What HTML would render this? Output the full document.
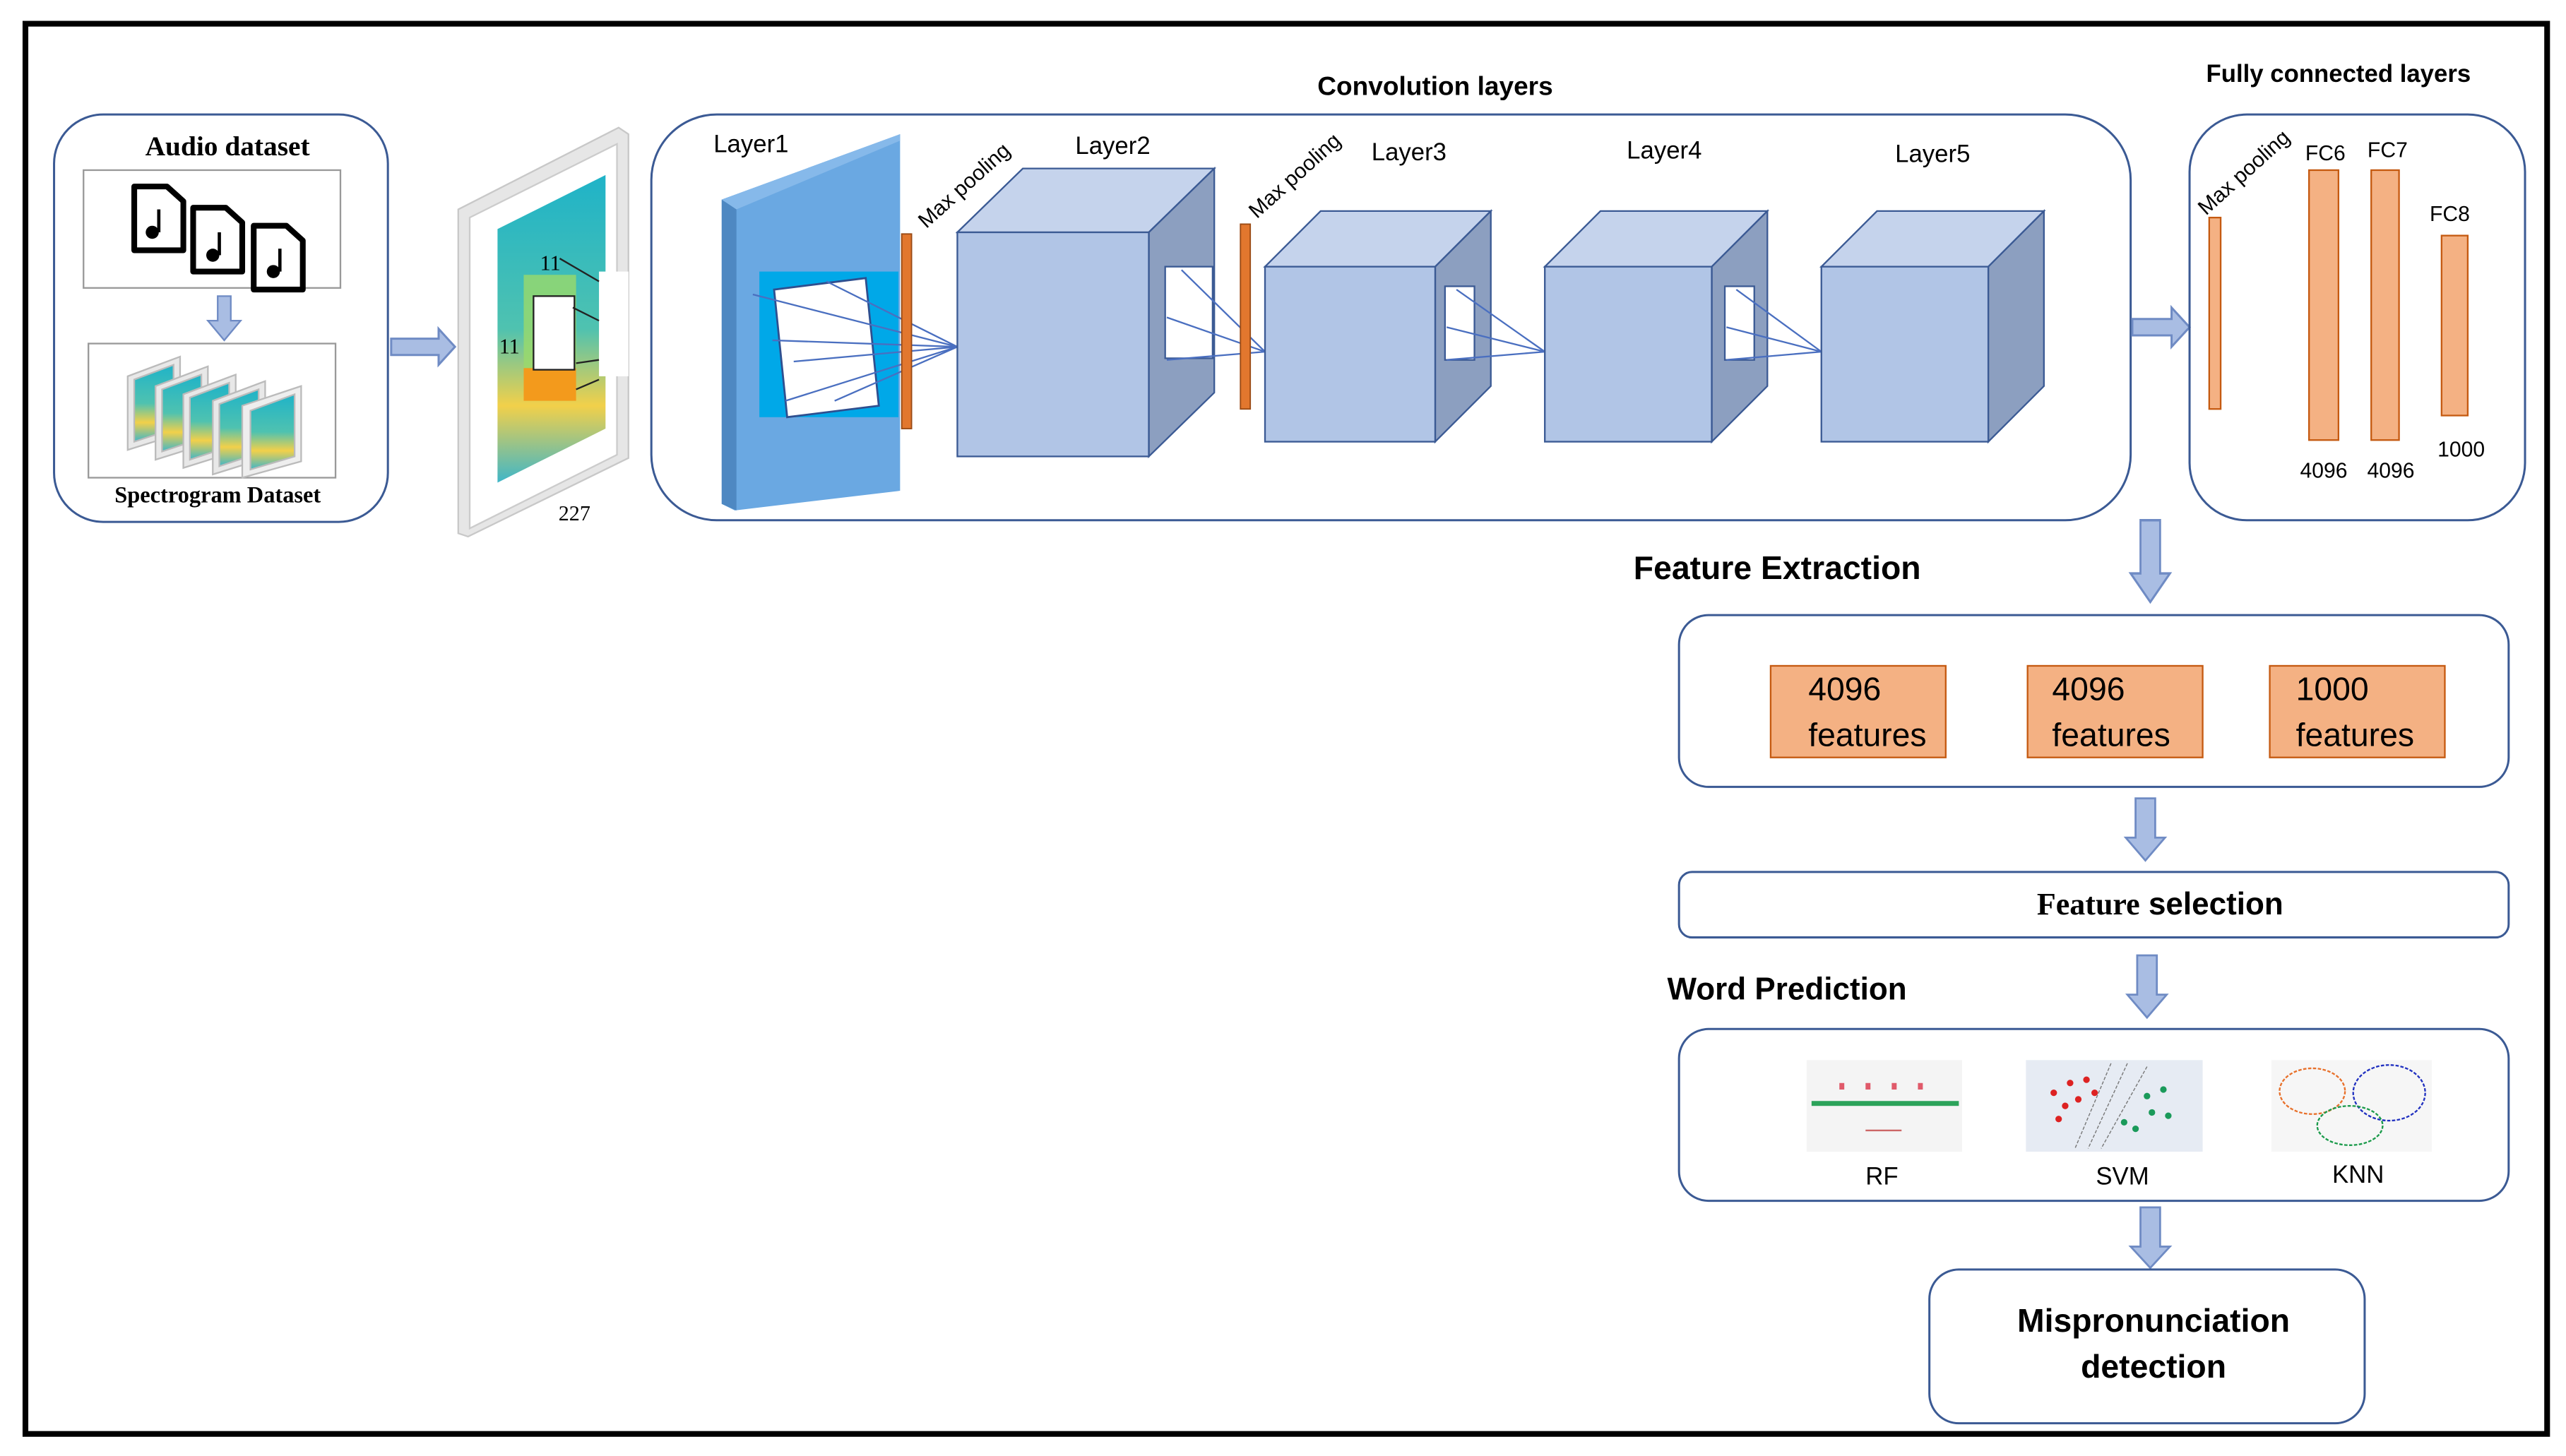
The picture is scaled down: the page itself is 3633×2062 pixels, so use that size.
<!DOCTYPE html>
<html><head><meta charset="utf-8"><style>
html,body{margin:0;padding:0;background:#fff}
svg{display:block}
text{font-family:"Liberation Sans",sans-serif}
</style></head><body>
<svg width="3633" height="2062" viewBox="0 0 1568 890" xmlns="http://www.w3.org/2000/svg">
<defs>
<linearGradient id="spec" x1="0" y1="0" x2="0" y2="1">
<stop offset="0" stop-color="#1fb3c8"/><stop offset="0.5" stop-color="#4fc2b0"/><stop offset="0.75" stop-color="#f2d04a"/><stop offset="1" stop-color="#3fb6c8"/>
</linearGradient>
</defs>
<rect x="0" y="0" width="1568" height="890" fill="#fff"/>
<rect x="15.5" y="14.5" width="1541" height="862" fill="none" stroke="#000" stroke-width="3.5"/>

<!-- Audio dataset -->
<rect x="33" y="70" width="204" height="249" rx="30" fill="none" stroke="#3b5a94" stroke-width="1.3"/>
<text x="139" y="95" font-weight="bold" font-size="17" text-anchor="middle" style="font-family:'Liberation Serif',serif">Audio  dataset</text>
<rect x="51" y="104" width="157" height="72" fill="#fff" stroke="#999" stroke-width="1"/>
<g fill="#fff" stroke="#000" stroke-width="3.5" stroke-linejoin="round">
<path d="M82,114 h20 l10,9 v30 h-30 z"/>
<path d="M118,127 h20 l10,9 v30 h-30 z"/>
<path d="M155,138 h20 l10,9 v30 h-30 z"/>
</g>
<g fill="#000"><circle cx="93" cy="142" r="4"/><rect x="96" y="128" width="2" height="14"/><circle cx="130" cy="156" r="4"/><rect x="133" y="142" width="2" height="14"/><circle cx="167" cy="166" r="4"/><rect x="170" y="152" width="2" height="14"/></g>
<polygon points="133,181 141,181 141,196 147,196 137,208 127,196 133,196" fill="#a9bde3" stroke="#6f8bc4" stroke-width="1"/>
<rect x="54" y="210" width="151" height="82" fill="#fff" stroke="#999" stroke-width="1"/>
<g stroke="#bbb" stroke-width="1">
<polygon points="78,230 110,218 110,265 78,275" fill="#e8e8e8"/><polygon points="82,232 106,223 106,262 82,270" fill="url(#spec)"/>
<polygon points="95,236 127,224 127,271 95,281" fill="#e8e8e8"/><polygon points="99,238 123,229 123,268 99,276" fill="url(#spec)"/>
<polygon points="112,241 144,229 144,276 112,286" fill="#e8e8e8"/><polygon points="116,243 140,234 140,273 116,281" fill="url(#spec)"/>
<polygon points="130,245 162,233 162,280 130,290" fill="#e8e8e8"/><polygon points="134,247 158,238 158,277 134,285" fill="url(#spec)"/>
<polygon points="148,248 184,236 184,282 148,292" fill="#eee"/><polygon points="153,251 180,241 180,279 153,287" fill="url(#spec)"/>
</g>
<text x="133" y="307" font-weight="bold" font-size="14" text-anchor="middle" style="font-family:'Liberation Serif',serif">Spectrogram  Dataset</text>

<polygon points="239,207 268,207 268,201 278,212 268,223 268,217 239,217" fill="#a9bde3" stroke="#6f8bc4" stroke-width="1.3"/>

<!-- input image -->
<polygon points="280,128 378,78 384,82 384,280 286,328 280,326" fill="#e6e6e6" stroke="#c8c8c8"/>
<polygon points="287,133 377,88 377,278 287,323" fill="#fff" stroke="#ccc"/>
<polygon points="304,140 370,107 370,262 304,295" fill="url(#spec)"/>
<rect x="320" y="168" width="32" height="60" fill="#9ad96a" opacity="0.8"/>
<rect x="320" y="225" width="32" height="20" fill="#f39a1c"/>
<rect x="326" y="181" width="25" height="45" fill="#fff" stroke="#222" stroke-width="1"/>
<rect x="366" y="166" width="18" height="64" fill="#fff"/>
<g stroke="#222" stroke-width="1"><line x1="342" y1="158" x2="366" y2="172"/><line x1="350" y1="188" x2="366" y2="196"/><line x1="352" y1="222" x2="366" y2="220"/><line x1="352" y1="238" x2="366" y2="232"/></g>
<text x="330" y="165" font-size="13" style="font-family:'Liberation Serif',serif">11</text>
<text x="305" y="216" font-size="13" style="font-family:'Liberation Serif',serif">11</text>
<text x="351" y="318" font-size="13" text-anchor="middle" style="font-family:'Liberation Serif',serif">227</text>

<!-- Convolution box -->
<rect x="398" y="70" width="904" height="248" rx="40" fill="none" stroke="#3b5a94" stroke-width="1.3"/>
<text x="877" y="58" font-weight="bold" font-size="16" text-anchor="middle">Convolution layers</text>

<polygon points="441,122 550,82 550,300 449,312 441,308" fill="#6aa8e2"/>
<polygon points="441,122 450,128 450,312 441,308" fill="#4e88c2"/>
<polygon points="441,122 550,82 550,86 450,128" fill="#86b9ea"/>
<rect x="464" y="166" width="85" height="89" fill="#00a8e8"/>
<polygon points="473,177 529,170 537,248 481,255" fill="#fff" stroke="#2f4f8f" stroke-width="1.2"/>
<g stroke="#4a6fc0" stroke-width="1"><line x1="460" y1="180" x2="585" y2="212"/><line x1="472" y1="208" x2="585" y2="212"/><line x1="485" y1="221" x2="585" y2="212"/><line x1="480" y1="245" x2="585" y2="212"/><line x1="505" y1="172" x2="585" y2="212"/><line x1="510" y1="245" x2="585" y2="212"/></g>
<text x="436" y="93" font-size="15">Layer1</text>
<rect x="551" y="143" width="6" height="119" fill="#e2772e" stroke="#9a4a14" stroke-width="0.8"/>
<text x="0" y="0" font-size="13" transform="translate(566,140) rotate(-42)">Max pooling</text>

<polygon points="585,142 625,103 742,103 702,142" fill="#c5d3ec" stroke="#3b5a94" stroke-width="1"/>
<polygon points="702,142 742,103 742,240 702,279" fill="#8c9fc0" stroke="#3b5a94" stroke-width="1"/>
<rect x="585" y="142" width="117" height="137" fill="#b1c5e6" stroke="#3b5a94" stroke-width="1"/>
<rect x="712" y="163" width="29" height="56" fill="#fff" stroke="#3b5a94" stroke-width="1"/>
<g stroke="#4a6fc0" stroke-width="1"><line x1="722" y1="165" x2="773" y2="215"/><line x1="713" y1="194" x2="773" y2="215"/><line x1="713" y1="220" x2="773" y2="215"/></g>
<text x="680" y="94" font-size="15" text-anchor="middle">Layer2</text>
<rect x="758" y="137" width="6" height="113" fill="#e2772e" stroke="#9a4a14" stroke-width="0.8"/>
<text x="0" y="0" font-size="13" transform="translate(768,134) rotate(-42)">Max pooling</text>

<polygon points="773,163 807,129 911,129 877,163" fill="#c5d3ec" stroke="#3b5a94" stroke-width="1"/>
<polygon points="877,163 911,129 911,236 877,270" fill="#8c9fc0" stroke="#3b5a94" stroke-width="1"/>
<rect x="773" y="163" width="104" height="107" fill="#b1c5e6" stroke="#3b5a94" stroke-width="1"/>
<rect x="883" y="175" width="18" height="45" fill="#fff" stroke="#3b5a94" stroke-width="1"/>
<g stroke="#4a6fc0" stroke-width="1"><line x1="890" y1="177" x2="944" y2="215"/><line x1="884" y1="200" x2="944" y2="215"/><line x1="884" y1="220" x2="944" y2="215"/></g>
<text x="861" y="98" font-size="15" text-anchor="middle">Layer3</text>

<polygon points="944,163 978,129 1080,129 1046,163" fill="#c5d3ec" stroke="#3b5a94" stroke-width="1"/>
<polygon points="1046,163 1080,129 1080,236 1046,270" fill="#8c9fc0" stroke="#3b5a94" stroke-width="1"/>
<rect x="944" y="163" width="102" height="107" fill="#b1c5e6" stroke="#3b5a94" stroke-width="1"/>
<rect x="1054" y="175" width="18" height="45" fill="#fff" stroke="#3b5a94" stroke-width="1"/>
<g stroke="#4a6fc0" stroke-width="1"><line x1="1061" y1="177" x2="1113" y2="215"/><line x1="1055" y1="200" x2="1113" y2="215"/><line x1="1055" y1="220" x2="1113" y2="215"/></g>
<text x="1017" y="97" font-size="15" text-anchor="middle">Layer4</text>

<polygon points="1113,163 1147,129 1249,129 1215,163" fill="#c5d3ec" stroke="#3b5a94" stroke-width="1"/>
<polygon points="1215,163 1249,129 1249,236 1215,270" fill="#8c9fc0" stroke="#3b5a94" stroke-width="1"/>
<rect x="1113" y="163" width="102" height="107" fill="#b1c5e6" stroke="#3b5a94" stroke-width="1"/>
<text x="1181" y="99" font-size="15" text-anchor="middle">Layer5</text>

<polygon points="1303,195 1327,195 1327,188 1338,200 1327,212 1327,205 1303,205" fill="#a9bde3" stroke="#6f8bc4" stroke-width="1.3"/>

<rect x="1338" y="70" width="205" height="248" rx="35" fill="none" stroke="#3b5a94" stroke-width="1.3"/>
<text x="1429" y="50" font-weight="bold" font-size="15" text-anchor="middle">Fully connected layers</text>
<rect x="1350" y="133" width="7" height="117" fill="#f4b183" stroke="#c55a11" stroke-width="1"/>
<text x="0" y="0" font-size="13" transform="translate(1348,132) rotate(-42)">Max pooling</text>
<rect x="1411" y="104" width="18" height="165" fill="#f4b183" stroke="#c55a11" stroke-width="1"/>
<rect x="1449" y="104" width="17" height="165" fill="#f4b183" stroke="#c55a11" stroke-width="1"/>
<rect x="1492" y="144" width="16" height="110" fill="#f4b183" stroke="#c55a11" stroke-width="1"/>
<text x="1421" y="98" font-size="13" text-anchor="middle">FC6</text>
<text x="1459" y="96" font-size="13" text-anchor="middle">FC7</text>
<text x="1497" y="135" font-size="13" text-anchor="middle">FC8</text>
<text x="1420" y="292" font-size="13" text-anchor="middle">4096</text>
<text x="1461" y="292" font-size="13" text-anchor="middle">4096</text>
<text x="1504" y="279" font-size="13" text-anchor="middle">1000</text>

<g transform="translate(1314,318) scale(1,1.25)"><polygon points="-6,0 6,0 6,26 12,26 0,40 -12,26 -6,26" fill="#a9bde3" stroke="#6f8bc4" stroke-width="1.2"/></g>

<text x="1086" y="354" font-weight="bold" font-size="20" text-anchor="middle">Feature Extraction</text>
<rect x="1026" y="376" width="507" height="105" rx="18" fill="none" stroke="#3b5a94" stroke-width="1.3"/>
<g fill="#f4b183" stroke="#c55a11" stroke-width="1">
<rect x="1082" y="407" width="107" height="56"/><rect x="1239" y="407" width="107" height="56"/><rect x="1387" y="407" width="107" height="56"/></g>
<g font-size="20"><text x="1105" y="428">4096</text><text x="1105" y="456">features</text>
<text x="1254" y="428">4096</text><text x="1254" y="456">features</text>
<text x="1403" y="428">1000</text><text x="1403" y="456">features</text></g>

<g transform="translate(1311,488)"><polygon points="-6,0 6,0 6,24 12,24 0,38 -12,24 -6,24" fill="#a9bde3" stroke="#6f8bc4" stroke-width="1.2"/></g>
<rect x="1026" y="533" width="507" height="40" rx="8" fill="none" stroke="#3b5a94" stroke-width="1.3"/>
<text x="1320" y="559" font-weight="bold" font-size="19" text-anchor="middle"><tspan style="font-family:'Liberation Serif',serif">Feature</tspan> selection</text>

<text x="1092" y="611" font-weight="bold" font-size="19" text-anchor="middle">Word Prediction</text>
<g transform="translate(1312,584)"><polygon points="-6,0 6,0 6,24 12,24 0,38 -12,24 -6,24" fill="#a9bde3" stroke="#6f8bc4" stroke-width="1.2"/></g>
<rect x="1026" y="629" width="507" height="105" rx="18" fill="none" stroke="#3b5a94" stroke-width="1.3"/>
<rect x="1104" y="648" width="95" height="56" fill="#f4f4f4"/>
<g fill="#e05a6a"><rect x="1124" y="662" width="3" height="4"/><rect x="1140" y="662" width="3" height="4"/><rect x="1156" y="662" width="3" height="4"/><rect x="1172" y="662" width="3" height="4"/></g>
<g fill="#2ca35a"><rect x="1107" y="673" width="90" height="3"/></g>
<line x1="1140" y1="691" x2="1162" y2="691" stroke="#c66" stroke-width="1"/>
<rect x="1238" y="648" width="108" height="56" fill="#e6ebf3"/>
<g fill="#d22"><circle cx="1255" cy="668" r="2"/><circle cx="1265" cy="662" r="2"/><circle cx="1275" cy="660" r="2"/><circle cx="1262" cy="676" r="2"/><circle cx="1270" cy="672" r="2"/><circle cx="1280" cy="668" r="2"/><circle cx="1258" cy="684" r="2"/></g>
<g fill="#1a9a5a"><circle cx="1312" cy="670" r="2"/><circle cx="1322" cy="666" r="2"/><circle cx="1315" cy="680" r="2"/><circle cx="1325" cy="682" r="2"/><circle cx="1305" cy="690" r="2"/><circle cx="1298" cy="686" r="2"/></g>
<g stroke="#777" stroke-width="0.6" stroke-dasharray="2,1"><line x1="1290" y1="650" x2="1268" y2="702"/><line x1="1312" y1="652" x2="1284" y2="702"/><line x1="1300" y1="650" x2="1276" y2="702"/></g>
<rect x="1388" y="648" width="98" height="56" fill="#f6f6f6"/>
<ellipse cx="1413" cy="667" rx="20" ry="14" fill="none" stroke="#e8702a" stroke-dasharray="2,1"/>
<ellipse cx="1460" cy="668" rx="22" ry="17" fill="none" stroke="#2030c0" stroke-dasharray="2,1"/>
<ellipse cx="1436" cy="688" rx="20" ry="12" fill="none" stroke="#1a9a4a" stroke-dasharray="2,1"/>
<text x="1150" y="724" font-size="15" text-anchor="middle">RF</text>
<text x="1297" y="724" font-size="15" text-anchor="middle">SVM</text>
<text x="1441" y="723" font-size="15" text-anchor="middle">KNN</text>

<g transform="translate(1314,738)"><polygon points="-6,0 6,0 6,24 12,24 0,37 -12,24 -6,24" fill="#a9bde3" stroke="#6f8bc4" stroke-width="1.2"/></g>
<rect x="1179" y="776" width="266" height="94" rx="18" fill="none" stroke="#3b5a94" stroke-width="1.3"/>
<text x="1316" y="814" font-weight="bold" font-size="20" text-anchor="middle">Mispronunciation</text>
<text x="1316" y="842" font-weight="bold" font-size="20" text-anchor="middle">detection</text>
</svg>
</body></html>
